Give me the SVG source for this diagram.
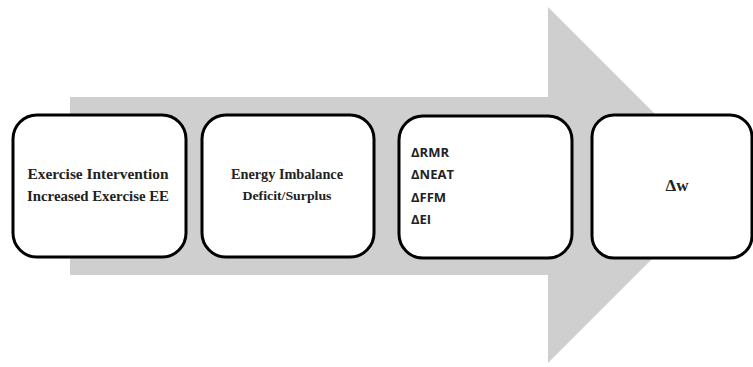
<svg xmlns="http://www.w3.org/2000/svg" width="753" height="367" viewBox="0 0 753 367">
<style>
.box{fill:#fff;stroke:#000;stroke-width:3}
.serif{font-family:"Liberation Serif","DejaVu Serif",serif;fill:#222;text-anchor:middle;font-weight:bold}
.sans{font-family:"Open Sans","Liberation Sans",sans-serif;fill:#222;font-weight:bold;font-size:13px}
</style>
<rect width="753" height="367" fill="#fff"/>
<g id="arrow"><polygon points="70,97 548,97 548,7 726,185 548,363 548,275 70,275" fill="#cfcfcf"/></g>
<g id="connectors"></g>
<g id="node1">
<rect class="box" x="13" y="115" width="173" height="142" rx="24"/>
<text class="serif" x="98" y="179" font-size="15" textLength="141" lengthAdjust="spacingAndGlyphs">Exercise Intervention</text>
<text class="serif" x="98" y="201" font-size="15" textLength="142" lengthAdjust="spacingAndGlyphs">Increased Exercise EE</text>
</g>
<g id="node2">
<rect class="box" x="202" y="115" width="172" height="142" rx="24"/>
<text class="serif" x="287" y="179" font-size="14" textLength="112" lengthAdjust="spacingAndGlyphs">Energy Imbalance</text>
<text class="serif" x="287" y="200" font-size="13" textLength="89" lengthAdjust="spacingAndGlyphs">Deficit/Surplus</text>
</g>
<g id="node3">
<rect class="box" x="399" y="116" width="173" height="142" rx="24"/>
<text class="sans" x="411" y="157">ΔRMR</text>
<text class="sans" x="411" y="179">ΔNEAT</text>
<text class="sans" x="411" y="202">ΔFFM</text>
<text class="sans" x="411" y="224">ΔEI</text>
</g>
<g id="node4">
<rect class="box" x="592" y="115" width="160" height="143" rx="22"/>
<text class="serif" x="677" y="191" font-size="17">Δw</text>
</g>
</svg>
